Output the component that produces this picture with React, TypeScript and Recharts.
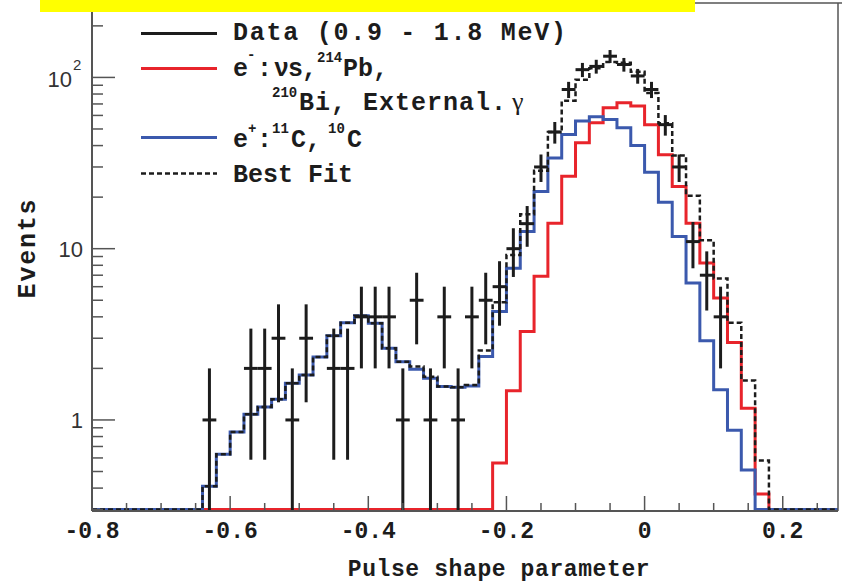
import React from "react";
import { ComposedChart, Line, Scatter, ErrorBar, XAxis, YAxis } from "recharts";

// histogram bins (lower edges, width 0.02)
const binLow = [
  -0.64, -0.62, -0.6, -0.58, -0.56, -0.54, -0.52, -0.5, -0.48, -0.46,
  -0.44, -0.42, -0.4, -0.38, -0.36, -0.34, -0.32, -0.3, -0.28, -0.26,
  -0.24, -0.22, -0.2, -0.18, -0.16, -0.14, -0.12, -0.1, -0.08, -0.06,
  -0.04, -0.02, 0, 0.02, 0.04, 0.06, 0.08, 0.1, 0.12, 0.14, 0.16,
];
const ePlus = [
  0.41, 0.63, 0.85, 1.08, 1.19, 1.32, 1.64, 1.83, 2.33, 3.1,
  3.7, 4.06, 3.67, 2.62, 2.19, 1.98, 1.75, 1.57, 1.55, 1.58,
  2.35, 4.3, 7.7, 12.6, 21.6, 33.9, 46.4, 55.6, 58.9, 56.8,
  50.8, 40, 27.9, 18.7, 11.8, 6.3, 2.9, 1.5, 0.87, 0.51, 0,
];
const eMinus = [
  0, 0, 0, 0, 0, 0, 0, 0, 0, 0,
  0, 0, 0, 0, 0, 0, 0, 0, 0, 0,
  0, 0.56, 1.48, 3.28, 6.9, 14.1, 26.5, 41.5, 54.3, 66.5,
  71.1, 68, 53, 35.4, 23.1, 14.1, 8.25, 5.15, 2.83, 1.17, 0.37,
];
const bestFit = [
  0.41, 0.63, 0.85, 1.08, 1.19, 1.32, 1.64, 1.83, 2.33, 3.1,
  3.7, 4.06, 3.67, 2.62, 2.19, 2.05, 1.79, 1.57, 1.55, 1.6,
  2.54, 4.86, 9.2, 15.9, 28.5, 48, 73, 97, 113, 123,
  122, 108, 81, 54, 35, 20.4, 11.2, 6.7, 3.7, 1.7, 0.58,
];

// measured events (bin centres)
const dataCenter = [
  -0.63, -0.57, -0.55, -0.53, -0.51, -0.49, -0.45, -0.43, -0.41, -0.39,
  -0.37, -0.35, -0.33, -0.31, -0.29, -0.27, -0.25, -0.23, -0.21, -0.19,
  -0.17, -0.15, -0.13, -0.11, -0.09, -0.07, -0.05, -0.03, -0.01, 0.01,
  0.03, 0.05, 0.07, 0.09, 0.11,
];
const dataCount = [
  1, 2, 2, 3, 1, 3, 2, 2, 4, 4,
  4, 1, 5, 1, 4, 1, 4, 5, 6, 10,
  14, 30, 48, 85, 111, 116, 133, 119, 102, 85,
  53, 30, 11, 7, 4,
];

const xTicks = [
  -0.8, -0.75, -0.7, -0.65, -0.6, -0.55, -0.5, -0.45, -0.4, -0.35, -0.3,
  -0.25, -0.2, -0.15, -0.1, -0.05, 0, 0.05, 0.1, 0.15, 0.2, 0.25,
];
const yTicks = [
  0.3, 0.4, 0.5, 0.6, 0.7, 0.8, 0.9, 1, 2, 3, 4, 5, 6, 7, 8, 9,
  10, 20, 30, 40, 50, 60, 70, 80, 90, 100, 200,
];

const X_MIN = -0.8;
const X_MAX = 0.28;
const Y_MIN = 0.294;
const Y_MAX = 272;
const Y_FLOOR = 0.3; // empty bins sit on the axis
const HALF_BIN = 0.01;

const MONO = '"Liberation Mono", "DejaVu Sans Mono", monospace';
const SANS = '"Liberation Sans", Arial, sans-serif';
const RED = "#e8242b";
const BLUE = "#3b59ad";
const INK = "#1c1c1c";
const AXIS = "#555";

const PLOT_LEFT = 92;
const PLOT_BOTTOM = 511;

const lift = (v: number) => (v > 0 ? v : Y_FLOOR);

const histo = (vals: number[], lead: boolean, tail: boolean) => {
  const pts: { x: number; y: number }[] = [];
  if (lead) pts.push({ x: X_MIN, y: Y_FLOOR });
  binLow.forEach((x, i) => pts.push({ x, y: lift(vals[i]) }));
  pts.push({ x: 0.18, y: Y_FLOOR });
  if (tail) pts.push({ x: X_MAX, y: Y_FLOOR });
  return pts;
};

const bluePts = histo(ePlus, true, true);
const redPts = histo(eMinus, false, false);
const fitPts = histo(bestFit, true, true);

const dataPts = dataCenter.map((x, i) => {
  const n = dataCount[i];
  const s = Math.sqrt(n);
  return { x, y: n, ey: [n - Math.max(n - s, Y_MIN), s], ex: HALF_BIN };
});

const XTick = (props: any) => {
  const { x, payload } = props;
  const v = payload.value;
  const major = Math.abs(v / 0.2 - Math.round(v / 0.2)) < 1e-6;
  const label = Math.abs(v) < 1e-9 ? "0" : v.toFixed(1);
  return (
    <g>
      <line x1={x} x2={x} y1={PLOT_BOTTOM} y2={PLOT_BOTTOM - (major ? 15 : 8)} stroke={AXIS} strokeWidth={1.5} />
      {major && (
        <text x={x} y={538} textAnchor="middle" fontFamily={MONO} fontWeight="bold" fontSize={23} fill={INK}>
          {label}
        </text>
      )}
    </g>
  );
};

const YTick = (props: any) => {
  const { y, payload } = props;
  const v = payload.value;
  const major = v === 1 || v === 10 || v === 100;
  return (
    <g>
      <line x1={PLOT_LEFT} x2={PLOT_LEFT + (major ? 23 : 11)} y1={y} y2={y} stroke={AXIS} strokeWidth={1.5} />
      {major && v !== 100 && (
        <text x={83} y={y + 8} textAnchor="end" fontFamily={SANS} fontSize={22} fill="#333">
          {String(v)}
        </text>
      )}
      {v === 100 && (
        <text x={72} y={y + 10} textAnchor="end" fontFamily={SANS} fontSize={22} fill="#333">
          10
        </text>
      )}
      {v === 100 && (
        <text x={73} y={y - 7} fontFamily={SANS} fontSize={15} fill="#333">
          2
        </text>
      )}
    </g>
  );
};

const Legend = () => {
  const txt = { fontFamily: MONO, fontWeight: "bold" as const, fontSize: 25, fill: INK };
  const sup = { fontFamily: MONO, fontWeight: "bold" as const, fontSize: 14, fill: INK };
  return (
    <svg width={842} height={583} style={{ position: "absolute", left: 0, top: 0, pointerEvents: "none" }}>
      <line x1={92} x2={842} y1={3} y2={3} stroke={AXIS} strokeWidth={1.5} />
      <line x1={838} x2={838} y1={3} y2={PLOT_BOTTOM} stroke={AXIS} strokeWidth={1.5} />
      <rect x={40} y={0} width={655} height={12} fill="#ffff00" />

      <line x1={141} x2={217} y1={33.5} y2={33.5} stroke={INK} strokeWidth={3} />
      <text x={233} y={40} {...txt} textLength={333} lengthAdjust="spacing">Data (0.9 - 1.8 MeV)</text>

      <line x1={141} x2={217} y1={68.5} y2={68.5} stroke={RED} strokeWidth={3} />
      <text x={233} y={76} {...txt}>e</text>
      <text x={247} y={59} {...sup}>-</text>
      <text x={257} y={76} {...txt}>:</text>
      <text x={274} y={76} {...txt} letterSpacing={-1}>νs,</text>
      <text x={317} y={62} {...sup}>214</text>
      <text x={343} y={76} {...txt}>Pb,</text>

      <text x={272} y={97} {...sup}>210</text>
      <text x={299} y={110} {...txt} textLength={207} lengthAdjust="spacing">Bi, External.</text>
      <text x={512} y={110} fontFamily='"Liberation Serif", serif' fontSize={26} fill={INK}>γ</text>

      <line x1={141} x2={217} y1={137.5} y2={137.5} stroke={BLUE} strokeWidth={3} />
      <text x={233} y={147} {...txt}>e</text>
      <text x={248} y={133} {...sup}>+</text>
      <text x={257} y={147} {...txt}>:</text>
      <text x={272} y={133} {...sup}>11</text>
      <text x={291} y={147} {...txt}>C,</text>
      <text x={328} y={133} {...sup}>10</text>
      <text x={347} y={147} {...txt}>C</text>

      <line x1={141} x2={217} y1={173.5} y2={173.5} stroke={INK} strokeWidth={2.5} strokeDasharray="5 3" />
      <text x={233} y={182} {...txt}>Best Fit</text>

      <text x={499} y={576} textAnchor="middle" fontFamily={MONO} fontWeight="bold" fontSize={23} fill={INK} letterSpacing={0.6}>
        Pulse shape parameter
      </text>
      <text
        x={35}
        y={248}
        textAnchor="middle"
        transform="rotate(-90 35 248)"
        fontFamily={MONO}
        fontWeight="bold"
        fontSize={25}
        letterSpacing={1.8}
        fill={INK}
      >
        Events
      </text>
    </svg>
  );
};

export default function App() {
  return (
    <div style={{ position: "absolute", left: 0, top: 0, width: 842, height: 583, background: "#fff" }}>
      <ComposedChart width={842} height={583} margin={{ top: 3, right: 4, bottom: 0, left: 0 }}>
        <XAxis
          type="number"
          dataKey="x"
          domain={[X_MIN, X_MAX]}
          allowDataOverflow
          ticks={xTicks}
          interval={0}
          tick={<XTick />}
          tickLine={false}
          axisLine={{ stroke: AXIS, strokeWidth: 2 }}
          height={72}
        />
        <YAxis
          type="number"
          scale="log"
          domain={[Y_MIN, Y_MAX]}
          allowDataOverflow
          ticks={yTicks}
          interval={0}
          tick={<YTick />}
          tickLine={false}
          axisLine={{ stroke: AXIS, strokeWidth: 2 }}
          width={92}
        />
        <Line data={redPts} dataKey="y" type="stepAfter" stroke={RED} strokeWidth={3} dot={false} isAnimationActive={false} />
        <Line data={bluePts} dataKey="y" type="stepAfter" stroke={BLUE} strokeWidth={3} dot={false} isAnimationActive={false} />
        <Line
          data={fitPts}
          dataKey="y"
          type="stepAfter"
          stroke={INK}
          strokeWidth={2.5}
          strokeDasharray="5 3"
          dot={false}
          isAnimationActive={false}
        />
        <Scatter data={dataPts} dataKey="y" shape={() => <g />} isAnimationActive={false}>
          <ErrorBar dataKey="ey" direction="y" width={0} stroke={INK} strokeWidth={3} isAnimationActive={false} />
          <ErrorBar dataKey="ex" direction="x" width={0} stroke={INK} strokeWidth={3} isAnimationActive={false} />
        </Scatter>
      </ComposedChart>
      <Legend />
    </div>
  );
}
